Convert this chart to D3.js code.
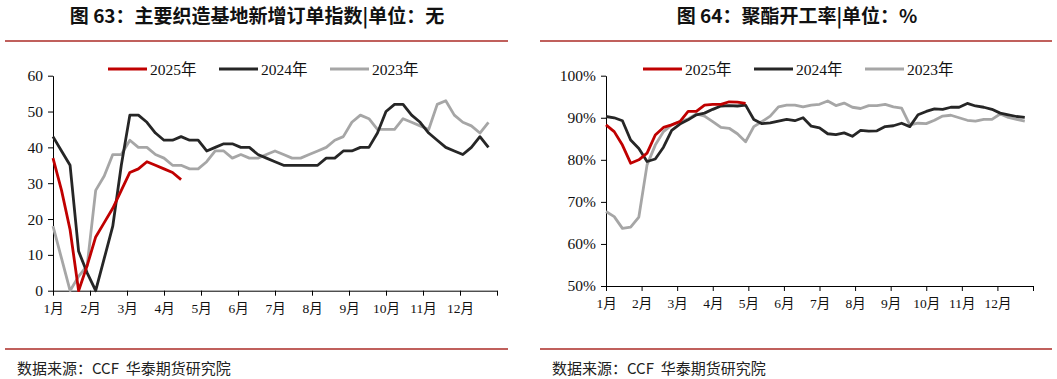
<!DOCTYPE html>
<html><head><meta charset="utf-8">
<script src="https://cdn.jsdelivr.net/npm/d3@7"></script>
<style>body{margin:0;background:#fff}svg{display:block}</style>
</head><body>
<svg id="c" width="1057" height="379"></svg>
<script>
const months = ["1月","2月","3月","4月","5月","6月","7月","8月","9月","10月","11月","12月"];
const seriesNames = ["2025年","2024年","2023年"];
const seriesColors = ["#c00000","#262626","#a6a6a6"];

// Chart 63: new order index (weekly)
const orders2025 = [37,28,17,0,7,15,19,23,28,33,34,36,35,34,33,31];
const orders2024 = [43,39,35,11,5,0,9,18,35,49,49,47,44,42,42,43,42,42,39,40,41,41,40,40,38,37,36,35,35,35,35,35,37,37,39,39,40,40,44,50,52,52,49,47,44,42,40,39,38,40,43,40];
const orders2023 = [18,9,0,4,7,28,32,38,38,42,40,40,38,37,35,35,34,34,36,39,39,37,38,37,37,38,39,38,37,37,38,39,40,42,43,47,49,48,45,45,45,48,47,46,45,52,53,49,47,46,44,47];
const ordersTicks = [0,10,20,30,40,50,60];

// Chart 64: polyester operating rate (weekly, %)
const rate2025 = [88.3,86.7,83.5,79.2,80,81.6,85.9,87.7,88.3,89.1,91.5,91.5,93,93.2,93.2,93.8,93.7,93.4];
const rate2024 = [90.3,90.0,89.3,84.7,82.7,79.6,80.2,83,87,88.5,89.5,90.7,91.1,92,92.8,92.9,92.8,93,89.6,88.6,88.8,89.2,89.6,89.3,90,88,87.6,86.2,86,86.4,85.6,87,86.8,86.9,87.9,88.1,88.7,87.9,90.7,91.5,92.1,92,92.5,92.5,93.4,92.8,92.5,92,91.1,90.7,90.3,90.1];
const rate2023 = [67.7,66.5,63.7,64,66.4,78.8,83.5,86.7,88.3,89.1,89.7,90.9,90.4,89.1,87.7,87.5,86.2,84.3,87.9,89.1,90.4,92.6,93,93,92.6,93,93.2,94,92.9,93.5,92.5,92.2,92.9,92.9,93.2,92.6,92.3,88.3,88.7,88.6,89.4,90.4,90.6,90,89.4,89.2,89.6,89.6,90.9,90.1,89.6,89.2];
const rateTicks = [50,60,70,80,90,100];

const svg = d3.select("#c");
const numFont = "'Liberation Serif','Noto Sans CJK SC',serif";

function panel(o) {
  const g = svg.append("g");
  // title
  g.append("text").attr("x", o.titleX).attr("y", 23)
    .attr("text-anchor", "middle")
    .style("font-family", "'Noto Sans CJK SC',sans-serif")
    .style("font-weight", "700").style("font-size", "19px").attr("fill", "#111")
    .text(o.title);
  g.append("line").attr("x1", o.lineX0).attr("x2", o.lineX1).attr("y1", 41).attr("y2", 41)
    .attr("stroke", "#c0605c").attr("stroke-width", 2);
  g.append("line").attr("x1", o.lineX0).attr("x2", o.lineX1).attr("y1", 349).attr("y2", 349)
    .attr("stroke", "#c0605c").attr("stroke-width", 2);
  g.append("text").attr("x", o.lineX0 + 12).attr("y", 373.5)
    .attr("xml:space", "preserve").style("white-space", "pre")
    .style("font-family", "'Noto Sans CJK SC',sans-serif").style("font-size", "15px").attr("fill", "#222")
    .text("数据来源：CCF  华泰期货研究院");

  const x = d3.scaleLinear().domain([0, 52]).range([o.x0, o.x1]);
  const y = d3.scaleLinear().domain(o.yDomain).range([o.yBottom, o.yTop]);

  const monthPos = d3.range(13).map(m => m * 52 / 12);
  const xAxis = d3.axisBottom(x).tickValues(monthPos).tickSize(5).tickSizeOuter(0)
    .tickFormat((d, i) => months[i] || "");
  const gx = g.append("g").attr("transform", `translate(0,${o.yBottom})`).call(xAxis);
  gx.select(".domain").attr("stroke", "#000");
  gx.selectAll(".tick line").attr("stroke", "#000");
  gx.selectAll(".tick text").attr("dy", "1.05em")
    .style("font-family", numFont).style("font-size", "13.5px").attr("fill", "#111");

  const yAxis = d3.axisLeft(y).tickValues(o.yTicks).tickSize(5).tickSizeOuter(0).tickFormat(o.fmt);
  const gy = g.append("g").attr("transform", `translate(${o.x0},0)`).call(yAxis);
  gy.select(".domain").attr("stroke", "#000");
  gy.selectAll(".tick line").attr("stroke", "#000");
  gy.selectAll(".tick text").attr("x", -10)
    .style("font-family", numFont).style("font-size", "15.5px").attr("fill", "#111");

  const line = d3.line().x((d, i) => x(i)).y(d => y(d));
  [2, 1, 0].forEach(k => {
    g.append("path").datum(o.series[k]).attr("d", line)
      .attr("fill", "none").attr("stroke", seriesColors[k]).attr("stroke-width", 2.8)
      .attr("stroke-linejoin", "round");
  });

  // legend
  seriesNames.forEach((n, k) => {
    const lx = o.legendX + k * o.legendStep;
    g.append("line").attr("x1", lx).attr("x2", lx + 39).attr("y1", 69).attr("y2", 69)
      .attr("stroke", seriesColors[k]).attr("stroke-width", 2.8);
    g.append("text").attr("x", lx + 42).attr("y", 74.5)
      .style("font-family", numFont).style("font-size", "15.5px").attr("fill", "#111").text(n);
  });
}

panel({
  title: "图 63：主要织造基地新增订单指数|单位：无", titleX: 257,
  lineX0: 5, lineX1: 508,
  x0: 53, x1: 497, yTop: 75.7, yBottom: 290.7, yDomain: [0, 60], yTicks: ordersTicks,
  fmt: d => d, series: [orders2025, orders2024, orders2023],
  legendX: 108, legendStep: 111
});
panel({
  title: "图 64：聚酯开工率|单位：%", titleX: 797,
  lineX0: 540, lineX1: 1052,
  x0: 606, x1: 1033, yTop: 75.7, yBottom: 286, yDomain: [50, 100], yTicks: rateTicks,
  fmt: d => d + "%", series: [rate2025, rate2024, rate2023],
  legendX: 643, legendStep: 111
});
</script>
</body></html>
